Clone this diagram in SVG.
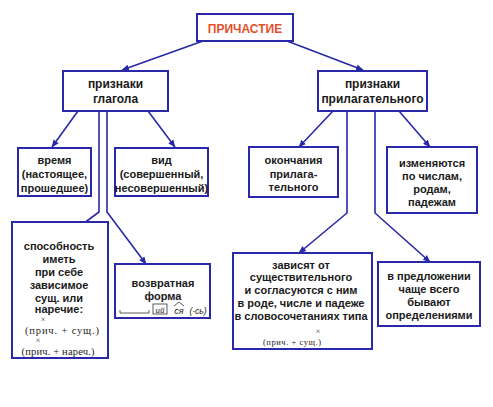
<svg xmlns="http://www.w3.org/2000/svg" width="493" height="407" viewBox="0 0 493 407">
<defs>
<marker id="ah" markerUnits="userSpaceOnUse" markerWidth="8" markerHeight="8" viewBox="0 0 8 8" refX="7" refY="4" orient="auto">
<path d="M0,0.8 L7.5,4 L0,7.2 Z" fill="#2828a8"/>
</marker>
<style>
.box{fill:#fff;stroke:#2828a8;stroke-width:2}
.ln{fill:none;stroke:#2828a8;stroke-width:1.6;marker-end:url(#ah)}
.t{font-family:"Liberation Sans",Arial,sans-serif;font-weight:bold;font-size:11px;fill:#1a1a1a;text-anchor:middle}
.tl{font-size:12px}
.s{font-family:"Liberation Serif","Times New Roman",serif;font-size:10.5px;fill:#222;text-anchor:middle}
.x{font-family:"Liberation Serif",serif;font-size:8px;fill:#333;text-anchor:middle}
.m{fill:none;stroke:#333;stroke-width:0.8}
</style>
</defs>
<rect width="493" height="407" fill="#fff"/>
<g id="connectors">
<path class="ln" d="M203,41 L122,70"/>
<path class="ln" d="M287,41 L363,70"/>
<path class="ln" d="M78,111 L52,147"/>
<path class="ln" d="M148,111 L175,147"/>
<path class="ln" d="M99,111 L99,212 L68,235"/>
<path class="ln" d="M107,111 L107,212 L146,264"/>
<path class="ln" d="M333,111 L299,147"/>
<path class="ln" d="M399,111 L430,147"/>
<path class="ln" d="M347,111 L347,213 L299,253"/>
<path class="ln" d="M375,111 L375,213 L430,262"/>
</g>
<g id="n-root">
<rect class="box" x="197" y="14" width="96" height="27"/>
<text class="t tl" x="245" y="33" style="fill:#e2502c">ПРИЧАСТИЕ</text>
</g>
<g id="n-verb">
<rect class="box" x="63" y="71" width="105" height="40"/>
<text class="t tl" x="115.5" y="88">признаки</text>
<text class="t tl" x="115.5" y="103">глагола</text>
</g>
<g id="n-adj">
<rect class="box" x="318" y="71" width="109" height="40"/>
<text class="t tl" x="372.5" y="88">признаки</text>
<text class="t tl" x="372.5" y="103">прилагательного</text>
</g>
<g id="n-time">
<rect class="box" x="18" y="148" width="73" height="48"/>
<text class="t" x="54.5" y="164">время</text>
<text class="t" x="54.5" y="178">(настоящее,</text>
<text class="t" x="54.5" y="192">прошедшее)</text>
</g>
<g id="n-aspect">
<rect class="box" x="115" y="148" width="93" height="48"/>
<text class="t" x="161.5" y="164">вид</text>
<text class="t" x="161.5" y="178">(совершенный,</text>
<text class="t" x="161.5" y="192">несовершенный)</text>
</g>
<g id="n-ending">
<rect class="box" x="249" y="147" width="89" height="50"/>
<text class="t" x="293.5" y="164">окончания</text>
<text class="t" x="293.5" y="178">прилага-</text>
<text class="t" x="293.5" y="191">тельного</text>
</g>
<g id="n-change">
<rect class="box" x="387" y="147" width="90" height="66"/>
<text class="t" x="432" y="167">изменяются</text>
<text class="t" x="432" y="180">по числам,</text>
<text class="t" x="432" y="193">родам,</text>
<text class="t" x="432" y="206">падежам</text>
</g>
<g id="n-ability">
<rect class="box" x="12" y="222" width="96" height="136"/>
<text class="t" x="59" y="250">способность</text>
<text class="t" x="59" y="263">иметь</text>
<text class="t" x="59" y="276">при себе</text>
<text class="t" x="59" y="289">зависимое</text>
<text class="t" x="59" y="302">сущ. или</text>
<text class="t" x="59" y="313">наречие:</text>
<text class="x" x="43" y="322">×</text>
<text class="s" x="62" y="334" textLength="74" lengthAdjust="spacing">(прич. + сущ.)</text>
<text class="x" x="38" y="343">×</text>
<text class="s" x="58" y="355" textLength="73" lengthAdjust="spacing">(прич. + нареч.)</text>
</g>
<g id="n-reflexive">
<rect class="box" x="115" y="264" width="95" height="54"/>
<text class="t" x="163" y="287">возвратная</text>
<text class="t" x="163" y="300">форма</text>
<path class="m" d="M120,310 L120,313 L149,313 L149,310"/>
<rect x="153" y="304" width="14" height="10" fill="none" stroke="#333" stroke-width="0.8"/>
<text x="160" y="312.5" style="font-family:'Liberation Serif',serif;font-style:italic;font-size:9px;fill:#222;text-anchor:middle">ий</text>
<path class="m" d="M174,306 L179,302 L184,306"/>
<text x="179" y="314" style="font-family:'Liberation Sans',sans-serif;font-style:italic;font-size:9px;fill:#222;text-anchor:middle">ся</text>
<text x="198" y="314" style="font-family:'Liberation Sans',sans-serif;font-style:italic;font-size:8.5px;fill:#222;text-anchor:middle">(-сь)</text>
</g>
<g id="n-depend">
<rect class="box" x="233" y="253" width="139" height="96"/>
<text class="t" x="301" y="269">зависят от</text>
<text class="t" x="301" y="281">существительного</text>
<text class="t" x="301" y="294">и согласуются с ним</text>
<text class="t" x="301" y="307">в роде, числе и падеже</text>
<text class="t" x="301" y="320">в словосочетаниях типа</text>
<text class="x" x="318" y="334">×</text>
<text class="s" x="292" y="345" style="font-size:8.5px" textLength="58" lengthAdjust="spacing">(прич. + сущ.)</text>
</g>
<g id="n-sentence">
<rect class="box" x="378" y="262" width="102" height="64"/>
<text class="t" x="429" y="280">в предложении</text>
<text class="t" x="429" y="293">чаще всего</text>
<text class="t" x="429" y="306">бывают</text>
<text class="t" x="429" y="319">определениями</text>
</g>
</svg>
